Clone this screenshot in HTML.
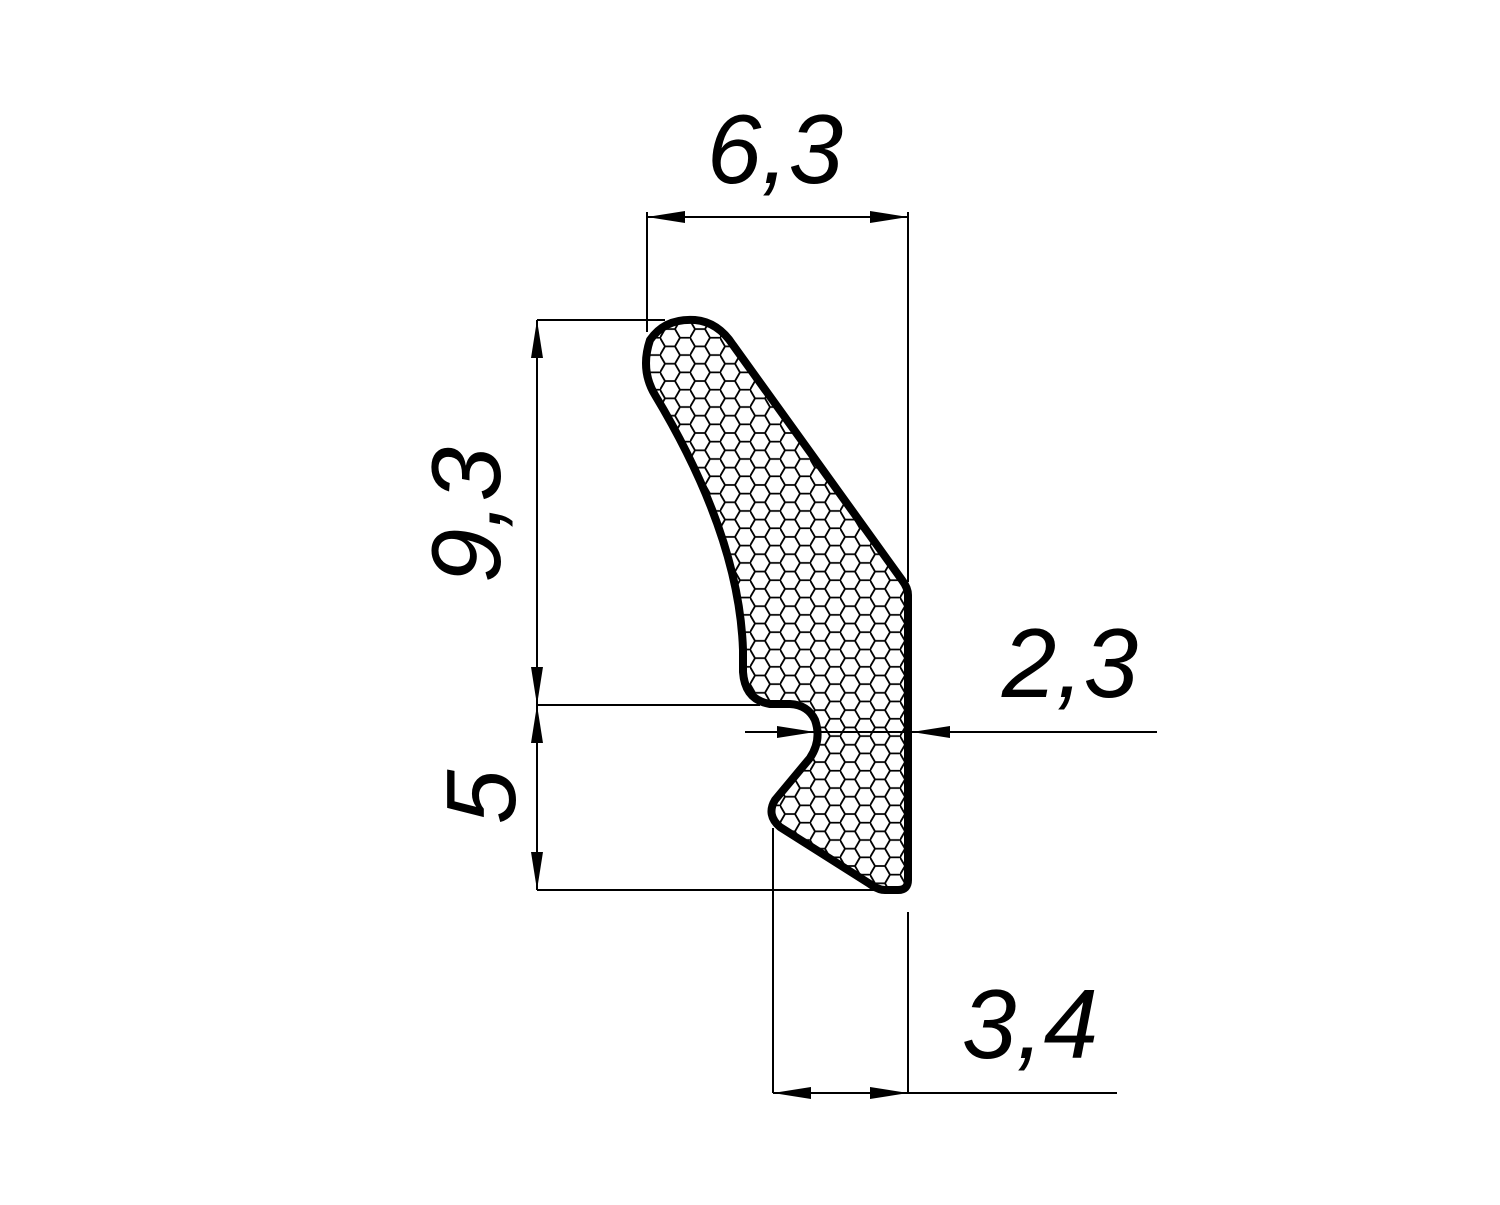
<!DOCTYPE html>
<html><head><style>html,body{margin:0;padding:0;background:#fff}</style></head>
<body>
<svg width="1500" height="1200" viewBox="0 0 1500 1200" xmlns="http://www.w3.org/2000/svg">
<defs>
<pattern id="hex" width="30" height="17.32" patternUnits="userSpaceOnUse">
<path d="M0,8.66 L5,0 L15,0 L20,8.66 L15,17.32 L5,17.32 Z M20,8.66 L30,8.66" fill="none" stroke="#000" stroke-width="1.8"/>
</pattern>
<clipPath id="cp"><path d="M908,595 L908,880 Q908,890 898,890 L885,890 Q878,890 870,884 L780,827 Q766,815 775,800 L810,758 Q822,740 815,720 Q808,705 790,704 L770,704 Q745,700 743,672 L743,650 C740,560 700,470 655,395 Q640,370 650,340 Q665,318 695,320 Q718,322 733,345 L902,580 Q908,588 908,595 Z"/></clipPath>
</defs>
<rect x="600" y="300" width="330" height="620" fill="url(#hex)" clip-path="url(#cp)"/>
<path d="M908,595 L908,880 Q908,890 898,890 L885,890 Q878,890 870,884 L780,827 Q766,815 775,800 L810,758 Q822,740 815,720 Q808,705 790,704 L770,704 Q745,700 743,672 L743,650 C740,560 700,470 655,395 Q640,370 650,340 Q665,318 695,320 Q718,322 733,345 L902,580 Q908,588 908,595 Z" fill="none" stroke="#000" stroke-width="8" stroke-linejoin="round"/>
<g stroke="#000" stroke-width="2" fill="none">
<line x1="647" y1="217" x2="908" y2="217"/>
<line x1="647" y1="212" x2="647" y2="332"/>
<line x1="908" y1="212" x2="908" y2="582"/>
<line x1="537" y1="320" x2="537" y2="890"/>
<line x1="537" y1="320" x2="665" y2="320"/>
<line x1="537" y1="705" x2="760" y2="705"/>
<line x1="537" y1="890" x2="878" y2="890"/>
<line x1="745" y1="732" x2="1157" y2="732"/>
<line x1="773" y1="828" x2="773" y2="1093"/>
<line x1="908" y1="912" x2="908" y2="1093"/>
<line x1="773" y1="1093" x2="1117" y2="1093"/>
</g>
<g fill="#000">
<polygon points="647,217 685,211 685,223"/>
<polygon points="908,217 870,211 870,223"/>
<polygon points="537,320 531,358 543,358"/>
<polygon points="537,705 531,667 543,667"/>
<polygon points="537,705 531,743 543,743"/>
<polygon points="537,890 531,852 543,852"/>
<polygon points="815,732 777,726 777,738"/>
<polygon points="912,732 950,726 950,738"/>
<polygon points="773,1093 811,1087 811,1099"/>
<polygon points="908,1093 870,1087 870,1099"/>
</g>
<g font-family="Liberation Sans, sans-serif" font-style="italic" font-size="98" fill="#000">
<text x="775" y="183" text-anchor="middle">6,3</text>
<text x="1070" y="697" text-anchor="middle">2,3</text>
<text x="1030" y="1058" text-anchor="middle">3,4</text>
<text transform="translate(500,515) rotate(-90)" text-anchor="middle">9,3</text>
<text transform="translate(515,797) rotate(-90)" text-anchor="middle">5</text>
</g>
</svg>
</body></html>
